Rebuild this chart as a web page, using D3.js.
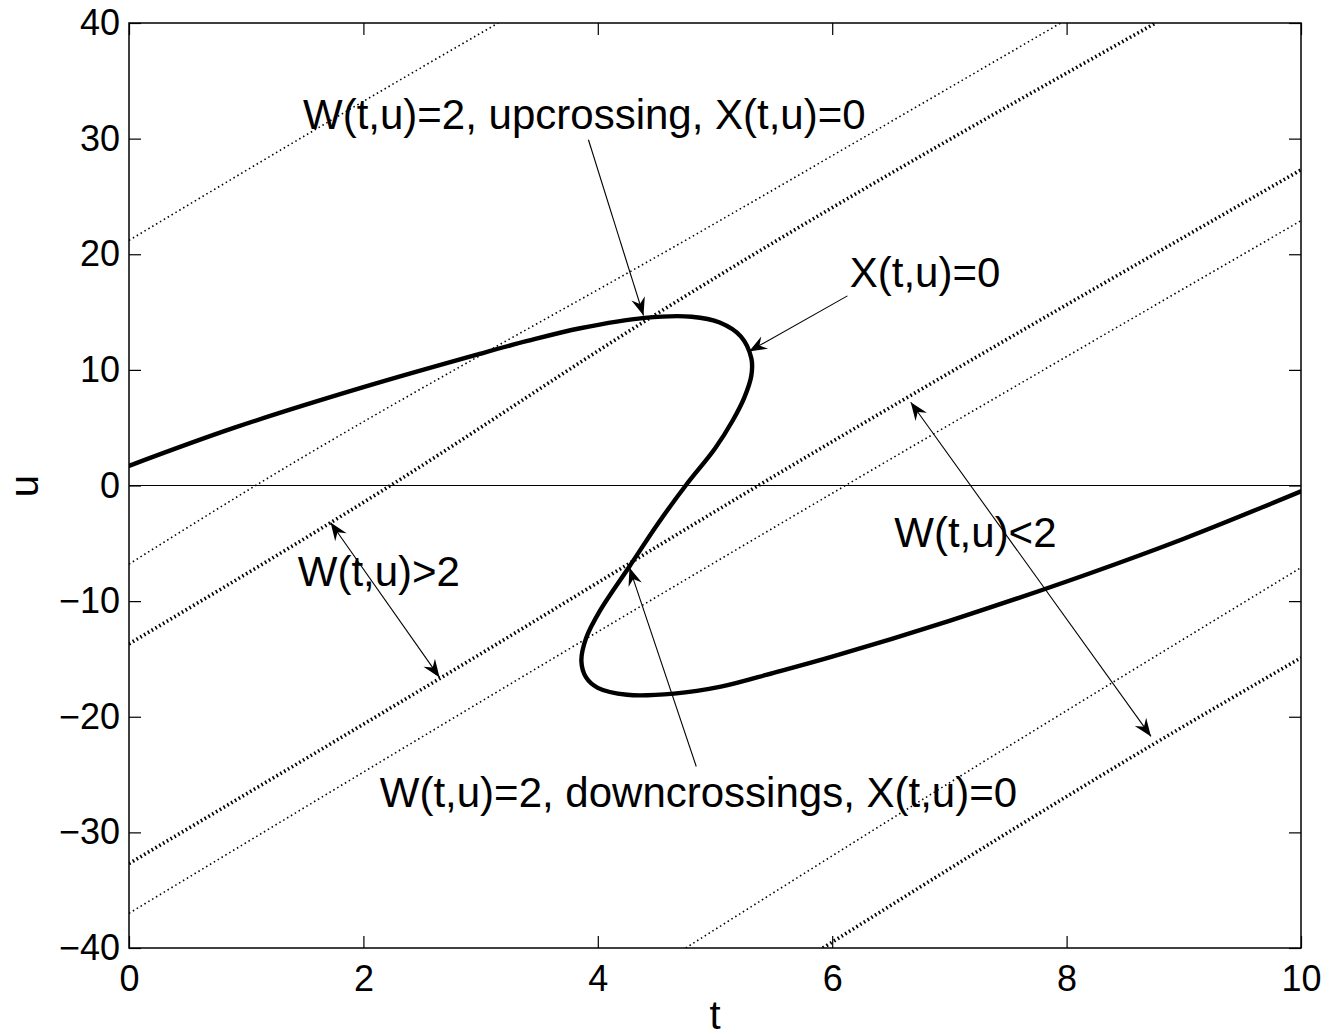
<!DOCTYPE html>
<html><head><meta charset="utf-8">
<script src="https://cdn.jsdelivr.net/npm/d3@7"></script>
<style>body{margin:0;background:#fff}svg{display:block}</style>
</head><body><svg id="c" width="1328" height="1036"></svg>
<script>
// ---- data (t, u) ----
const xTicks = [0, 2, 4, 6, 8, 10];
const yTicks = [-40, -30, -20, -10, 0, 10, 20, 30, 40];

// thick curve X(t,u)=0
const curveX0 = [[0,1.7],[0.9,5.0],[2.0,8.5],[3.0,11.4],[3.4,12.5],[3.85,13.6],[4.4,14.5],[4.8,14.6],
  [5.04,14.1],[5.22,12.9],[5.31,11.0],[5.31,9.5],[5.25,7.6],[5.15,5.6],[5.0,3.2],[4.75,0],[4.52,-3.2],
  [4.27,-7.0],[4.02,-10.8],[3.9,-13.2],[3.86,-15.2],[3.9,-16.6],[4.0,-17.5],[4.25,-18.1],[4.65,-18.0],
  [5.05,-17.4],[5.5,-16.2],[6.0,-14.8],[7.0,-11.7],[8.0,-8.3],[9.0,-4.6],[10,-0.5]];

// light dotted level lines
const light1 = [[0,21.2],[1.76,31.8],[3.15,40]];
const light2 = [[0,-6.8],[1.0,-0.5],[5.04,22.9],[7.95,40]];
const light3 = [[0,-37],[5.04,-6.4],[10,22.9]];
const light4 = [[4.75,-40],[6.51,-28.8],[10,-7.1]];
// dense (hatched) dotted level lines
const dense1 = [[0,-13.7],[2.2,-0.2],[4.4,14.2],[5.04,18.2],[8.76,40]];
const dense2 = [[0,-32.7],[2.65,-16.7],[5.37,0],[10,27.3]];
const dense3 = [[5.92,-40],[8.72,-22.5],[10,-14.9]];

// annotation texts: [t, u, label]
const labelUp = [1.485, 30.8, "W(t,u)=2, upcrossing, X(t,u)=0"];
const labelX0 = [6.15, 17.2, "X(t,u)=0"];
const labelGt = [1.44, -8.65, "W(t,u)>2"];
const labelLt = [6.53, -5.3, "W(t,u)<2"];
const labelDown = [2.14, -27.8, "W(t,u)=2, downcrossings, X(t,u)=0"];

// arrows: [fromT, fromU, toT, toU, doubleHeaded]
const arrowUp = [3.92, 29.9, 4.39, 14.7, false];
const arrowX0 = [6.13, 16.4, 5.29, 11.6, false];
const arrowGt = [1.72, -3.2, 2.65, -16.6, true];
const arrowLt = [6.67, 7.2, 8.72, -21.7, true];
const arrowDown = [4.84, -24.3, 4.27, -7.1, false];

// ---- drawing ----
const svg = d3.select("#c");
svg.append("rect").attr("width",1328).attr("height",1036).attr("fill","#fff");
const L = 129, R = 1301, T = 23, B = 948;
const x = d3.scaleLinear().domain([0,10]).range([L,R]);
const y = d3.scaleLinear().domain([-40,40]).range([B,T]);
const FONT = "'Liberation Sans', Arial, Helvetica, sans-serif";

svg.append("defs").append("clipPath").attr("id","clip")
  .append("rect").attr("x",L).attr("y",T).attr("width",R-L).attr("height",B-T);
const plot = svg.append("g").attr("clip-path","url(#clip)");

const lineGen = d3.line().x(d=>x(d[0])).y(d=>y(d[1])).curve(d3.curveMonotoneX);
[light1, light2, light3, light4].forEach(d => {
  plot.append("path").datum(d).attr("d", lineGen).attr("fill","none")
    .attr("stroke","#000").attr("stroke-width",1.6).attr("stroke-dasharray","1.5,3");
});
[dense1, dense2, dense3].forEach(d => {
  plot.append("path").datum(d).attr("d", lineGen).attr("fill","none")
    .attr("stroke","#000").attr("stroke-width",3.6).attr("stroke-dasharray","1.6,2.8");
});

// zero line
plot.append("line").attr("x1",x(0)).attr("x2",x(10)).attr("y1",y(0)).attr("y2",y(0))
  .attr("stroke","#000").attr("stroke-width",1.2);

// thick curve
plot.append("path").datum(curveX0)
  .attr("d", d3.line().x(d=>x(d[0])).y(d=>y(d[1])).curve(d3.curveCatmullRom.alpha(0.5)))
  .attr("fill","none").attr("stroke","#000").attr("stroke-width",4.4)
  .attr("stroke-linejoin","round").attr("stroke-linecap","round");

// axes
const ax = svg.append("g").attr("font-family",FONT);
ax.append("g").attr("transform",`translate(0,${B})`)
  .call(d3.axisBottom(x).tickValues(xTicks).tickSizeInner(-12).tickSizeOuter(0).tickPadding(17));
ax.append("g").attr("transform",`translate(${L},0)`)
  .call(d3.axisLeft(y).tickValues(yTicks).tickSizeInner(-12).tickSizeOuter(0).tickPadding(9));
ax.append("g").attr("transform",`translate(0,${T})`)
  .call(d3.axisTop(x).tickValues(xTicks).tickSizeInner(-12).tickSizeOuter(0).tickFormat(""));
ax.append("g").attr("transform",`translate(${R},0)`)
  .call(d3.axisRight(y).tickValues(yTicks).tickSizeInner(-12).tickSizeOuter(0).tickFormat(""));
ax.selectAll(".domain").remove();
ax.selectAll(".tick line").attr("stroke","#000").attr("stroke-width",1.2);
ax.selectAll(".tick text").attr("font-size",36).attr("font-family",FONT).attr("fill","#000");
svg.append("rect").attr("x",L).attr("y",T).attr("width",R-L).attr("height",B-T)
  .attr("fill","none").attr("stroke","#000").attr("stroke-width",1.5);

// axis labels
svg.append("text").attr("x",(L+R)/2).attr("y",1029).attr("text-anchor","middle")
  .attr("font-family",FONT).attr("font-size",40).text("t");
svg.append("text").attr("transform","translate(38,486) rotate(-90)").attr("text-anchor","middle")
  .attr("font-family",FONT).attr("font-size",40).text("u");

// annotations
[labelUp, labelX0, labelGt, labelLt, labelDown].forEach(d => {
  svg.append("text").attr("x",x(d[0])).attr("y",y(d[1])).attr("font-family",FONT)
    .attr("font-size",42).attr("fill","#000").text(d[2]);
});

function headPath(tip, from){
  const dx = tip[0]-from[0], dy = tip[1]-from[1], len = Math.hypot(dx,dy);
  const ux = dx/len, uy = dy/len, px = -uy, py = ux;
  const Lh = 18, W = 7, Bk = 12;
  return `M${tip[0]},${tip[1]}L${tip[0]-Lh*ux+W*px},${tip[1]-Lh*uy+W*py}` +
    `L${tip[0]-Bk*ux},${tip[1]-Bk*uy}L${tip[0]-Lh*ux-W*px},${tip[1]-Lh*uy-W*py}Z`;
}
[arrowUp, arrowX0, arrowGt, arrowLt, arrowDown].forEach(a => {
  const p0 = [x(a[0]), y(a[1])], p1 = [x(a[2]), y(a[3])];
  svg.append("line").attr("x1",p0[0]).attr("y1",p0[1]).attr("x2",p1[0]).attr("y2",p1[1])
    .attr("stroke","#000").attr("stroke-width",1.1);
  svg.append("path").attr("d",headPath(p1,p0)).attr("fill","#000");
  if (a[4]) svg.append("path").attr("d",headPath(p0,p1)).attr("fill","#000");
});
</script></body></html>
